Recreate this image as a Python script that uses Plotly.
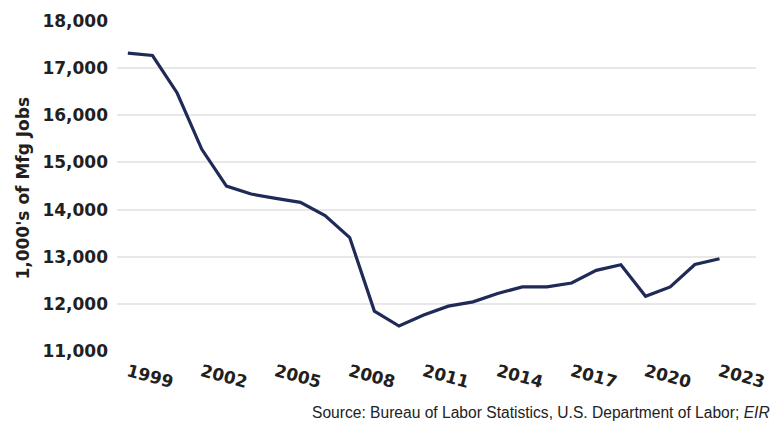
import plotly.graph_objects as go

years = list(range(1999, 2024))
jobs = [17317, 17268, 16473, 15278, 14498, 14329, 14236, 14152, 13871, 13406,
        11847, 11530, 11762, 11951, 12043, 12219, 12360, 12360, 12443, 12710,
        12830, 12160, 12360, 12835, 12957]
tick_years = [1999, 2002, 2005, 2008, 2011, 2014, 2017, 2020, 2023]
y_ticks = [11000, 12000, 13000, 14000, 15000, 16000, 17000, 18000]
y_title = "1,000's of Mfg Jobs"
source = "Source: Bureau of Labor Statistics, U.S. Department of Labor; <i>EIR</i>"

W, H = 778, 422
L, R, T, B = 117, 11, 19, 71
pw, ph = W - L - R, H - T - B

bold = dict(family="DejaVu Sans", size=17, color="#231f20", weight="bold")

fig = go.Figure()
fig.add_trace(go.Scatter(x=years, y=jobs, mode="lines",
                         line=dict(color="#1f2a57", width=3.2),
                         hoverinfo="skip", showlegend=False))

fig.update_layout(
    width=W, height=H,
    margin=dict(l=L, r=R, t=T, b=B, pad=0),
    paper_bgcolor="white", plot_bgcolor="white",
    xaxis=dict(range=[1998.56, 2024.48], tickmode="array", tickvals=tick_years,
               ticktext=[str(y) for y in tick_years], tickangle=15,
               tickfont=bold, showgrid=False, zeroline=False,
               showline=False, ticks="", ticklabelstandoff=7),
    yaxis=dict(range=[11000, 18000], tickmode="array", tickvals=y_ticks,
               ticktext=[f"{v:,}" for v in y_ticks], tickfont=bold,
               showgrid=True, gridcolor="#e8e8e8", gridwidth=1.5,
               zeroline=False, showline=False, ticks="", ticklabelstandoff=8),
    annotations=[
        dict(text=y_title, xref="paper", yref="paper",
             x=(21 - L) / pw, y=(351 - 187) / ph,
             xanchor="center", yanchor="middle", textangle=-90,
             showarrow=False, font=dict(bold, size=17)),
        dict(text=source, xref="paper", yref="paper",
             x=(313 - L) / pw, y=-(413 - 351) / ph, xanchor="left",
             yanchor="middle", showarrow=False,
             font=dict(family="Liberation Sans", size=15.6, color="#222222")),
    ],
)

fig.write_html("out.html")
